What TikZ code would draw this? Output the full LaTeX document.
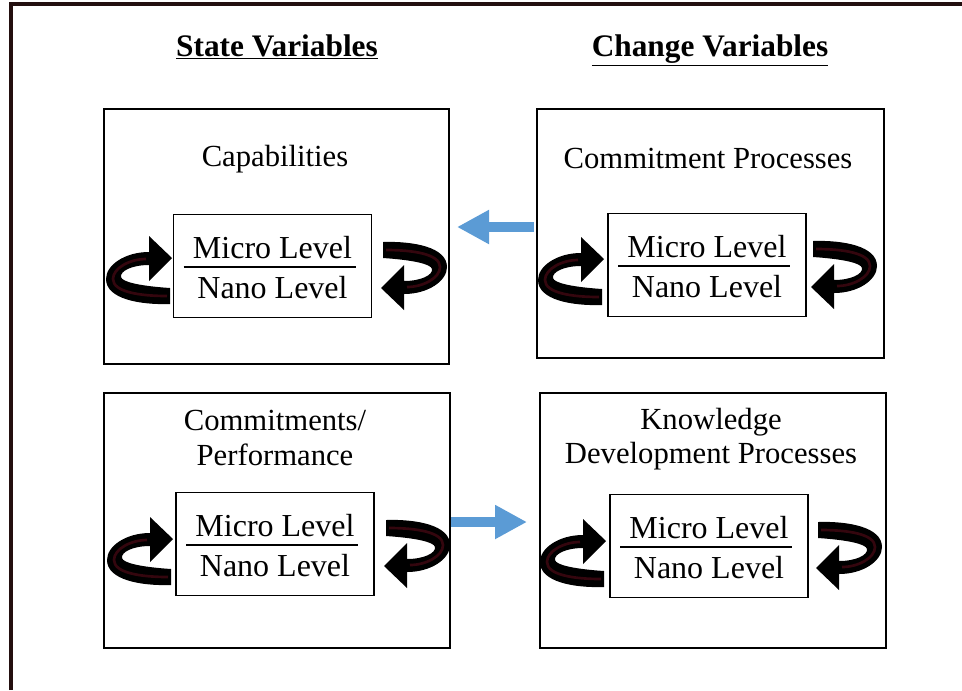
\documentclass[tikz,border=0pt]{standalone}
\usepackage{fontspec}
\setmainfont{Liberation Serif}
\usetikzlibrary{arrows.meta}
\definecolor{arrowblue}{RGB}{91,155,213}
\definecolor{framecol}{RGB}{35,15,15}
\definecolor{curlcore}{RGB}{52,6,14}
\begin{document}
\begin{tikzpicture}[x=0.75pt,y=-0.75pt,
  bigbox/.style={draw=black, line width=1.6pt, anchor=north west, inner sep=0pt, outer sep=0pt},
  innerbox/.style={draw=black, line width=1.2pt, minimum width=148.5pt, minimum height=77.25pt, inner sep=0pt},
  level/.style={font=\fontsize{24}{28}\selectfont, inner sep=0pt},
  title/.style={font=\fontsize{23}{26}\selectfont, align=center, inner sep=0pt},
  header/.style={font=\bfseries\fontsize{23.5}{28}\selectfont, inner sep=0pt, anchor=base},
  flow/.style={line width=7.5pt, draw=arrowblue, -{Triangle[length=24pt,width=24pt]}},
  divider/.style={line width=0.8pt, draw=black},
  curlL/.pic={
    \fill[black] (30,33) .. controls (0,34) and (-34,28) .. (-34,8)
      .. controls (-34,-6) and (-15,-19) .. (9,-19)
      -- (9,-35) -- (32,-13) -- (9,10) -- (9,-6)
      .. controls (-8,-6) and (-20,0) .. (-19,6)
      .. controls (-18,11) and (0,15) .. (30,17) -- cycle;
    \draw[line width=2pt, curlcore] (27,25) .. controls (0,25) and (-27,21) .. (-27,8) .. controls (-27,-3) and (-10,-12) .. (6,-12);
  },
  curlR/.pic={
    \fill[black] (-30,-33) .. controls (0,-34) and (34,-28) .. (34,-8)
      .. controls (34,6) and (15,19) .. (-9,19)
      -- (-9,35) -- (-32,13) -- (-9,-10) -- (-9,6)
      .. controls (8,6) and (20,0) .. (19,-6)
      .. controls (18,-11) and (0,-15) .. (-30,-17) -- cycle;
    \draw[line width=2pt, curlcore] (-27,-25) .. controls (0,-25) and (27,-21) .. (27,-8) .. controls (27,3) and (10,12) .. (-6,12);
  }
]
\useasboundingbox (0,0) rectangle (962,690);
% outer frame
\draw[framecol, line width=2.4pt] (11,690) -- (11,4) -- (962,4);

% headers
\node[header] (h1) at (277,56) {\underline{State Variables}};
\node[header] (h2) at (710,56) {\underline{Change Variables}};

% big boxes
\node[bigbox, minimum width=258.75pt, minimum height=191.25pt] (b1) at (104,109) {};
\node[bigbox, minimum width=260.25pt, minimum height=186.75pt] (b2) at (537,109) {};
\node[bigbox, minimum width=259.5pt, minimum height=191.25pt] (b3) at (104,393) {};
\node[bigbox, minimum width=259.5pt, minimum height=191.25pt] (b4) at (540,393) {};

% titles
\node[title] (t1) at (275,159) {Capabilities};
\node[title] (t2) at (708,158) {Commitment Processes};
\node[title] (t3) at (275,438) {Commitments/\\Performance};
\node[title] (t4) at (711,439) {Knowledge\\Development Processes};

% inner boxes
\foreach \n/\cx/\cy in {1/272.5/266, 2/707/265, 3/275/544, 4/709/546}{
  \node[innerbox] (in\n) at (\cx,\cy) {};
  \node[level] (mi\n) at (\cx,\cy-18) {Micro Level};
  \node[level] (na\n) at (\cx,\cy+22) {Nano Level};
  \coordinate (dl\n) at (\cx-89,\cy+1);
  \coordinate (dr\n) at (\cx+83,\cy+1);
  \draw[divider] (dl\n) -- (dr\n);
}

% curled arrows
\pic at (140,271) {curlL};
\pic at (413,275) {curlR};
\pic at (572,272) {curlL};
\pic at (843,274) {curlR};
\pic at (141,552) {curlL};
\pic at (416,553) {curlR};
\pic at (574,554) {curlL};
\pic at (848,555) {curlR};

% flow arrows
\coordinate (f1s) at (534,227);
\coordinate (f1e) at (457,227);
\coordinate (f2s) at (451,522);
\coordinate (f2e) at (527,522);
\draw[flow] (f1s) -- (f1e);
\draw[flow] (f2s) -- (f2e);
\end{tikzpicture}
\end{document}
